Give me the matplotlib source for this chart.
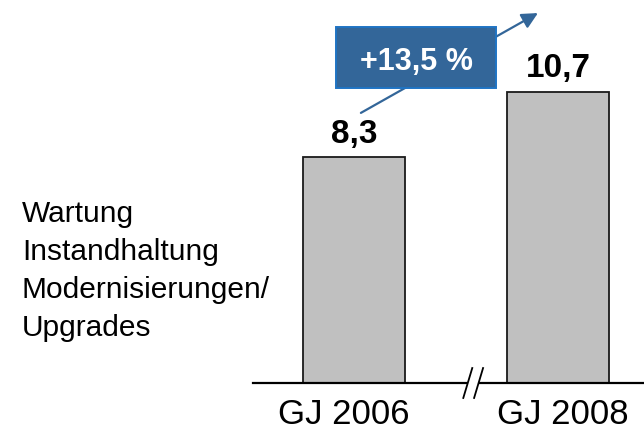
import matplotlib
matplotlib.use("Agg")
import matplotlib.pyplot as plt
from matplotlib.patches import Rectangle
from matplotlib.transforms import ScaledTranslation

plt.rcParams['font.family'] = ['Liberation Sans', 'DejaVu Sans']

# data
categories = ['GJ 2006', 'GJ 2008']
values = [8.3, 10.7]
value_labels = ['8,3', '10,7']
growth_label = '+13,5 %'
legend_lines = ['Wartung', 'Instandhaltung', 'Modernisierungen/', 'Upgrades']

W, H = 644, 430
fig = plt.figure(figsize=(W / 100, H / 100), dpi=100)
fig.patch.set_facecolor('white')

# axes: bottom spine is the baseline of the bars
ax = fig.add_axes([253 / W, 47 / H, (W - 253) / W, (H - 47) / H])
ax.set_xlim(-0.495, 1.422)
ax.set_ylim(0, 14.08)

xpos = list(range(len(categories)))
ax.bar(xpos, values, width=0.5, color='#c0c0c0', edgecolor='#1a1a1a',
       linewidth=1.3, zorder=2)

for s in ['top', 'right', 'left']:
    ax.spines[s].set_visible(False)
ax.spines['bottom'].set_linewidth(1.6)
ax.spines['bottom'].set_color('black')
ax.set_yticks([])
ax.set_xticks(xpos)
ax.set_xticklabels(categories, fontsize=25)
ax.tick_params(axis='x', length=0, pad=11)
# labels sit a little off the bar centres in the original
for lbl, dx in zip(ax.get_xticklabels(), [-10, 5]):
    lbl.set_transform(lbl.get_transform() + ScaledTranslation(dx / 100, 0, fig.dpi_scale_trans))

# value labels
for x, v, t in zip(xpos, values, value_labels):
    ax.annotate(t, xy=(x, v), xytext=(0, 10.5), textcoords='offset points',
                ha='center', va='baseline', fontsize=24, fontweight='bold',
                annotation_clip=False)

# axis break
xb = 0.583
ax.plot([xb - 0.025, xb + 0.025], [0, 0], color='white', lw=4, zorder=4,
        clip_on=False, solid_capstyle='butt')
for off in [-0.025, 0.028]:
    ax.plot([xb + off - 0.022, xb + off + 0.022], [-0.55, 0.55], color='black',
            lw=1.3, zorder=5, clip_on=False)

# growth arrow + box
ax.annotate('', xy=(xpos[1] - 0.098, values[1] + 2.9), xytext=(xpos[0] + 0.034, values[0] + 1.63),
            arrowprops=dict(arrowstyle='-|>', color='#336699', lw=1.6,
                            mutation_scale=24, shrinkA=0, shrinkB=0),
            annotation_clip=False, zorder=3)
ax.add_patch(Rectangle((-0.088, 10.85), 0.784, 2.243, facecolor='#336699',
                       edgecolor='#1f74c4', lw=1.4, zorder=6, clip_on=False))
ax.text(0.304, 11.51, growth_label, ha='center', va='baseline', fontsize=22,
        fontweight='bold', color='white', zorder=7)

# category description on the left
for i, line in enumerate(legend_lines):
    fig.text(22 / W, 1 - (222 + 38 * i) / H, line, ha='left', va='baseline',
             fontsize=21.5, color='black')

fig.savefig('out.png', dpi=100)
